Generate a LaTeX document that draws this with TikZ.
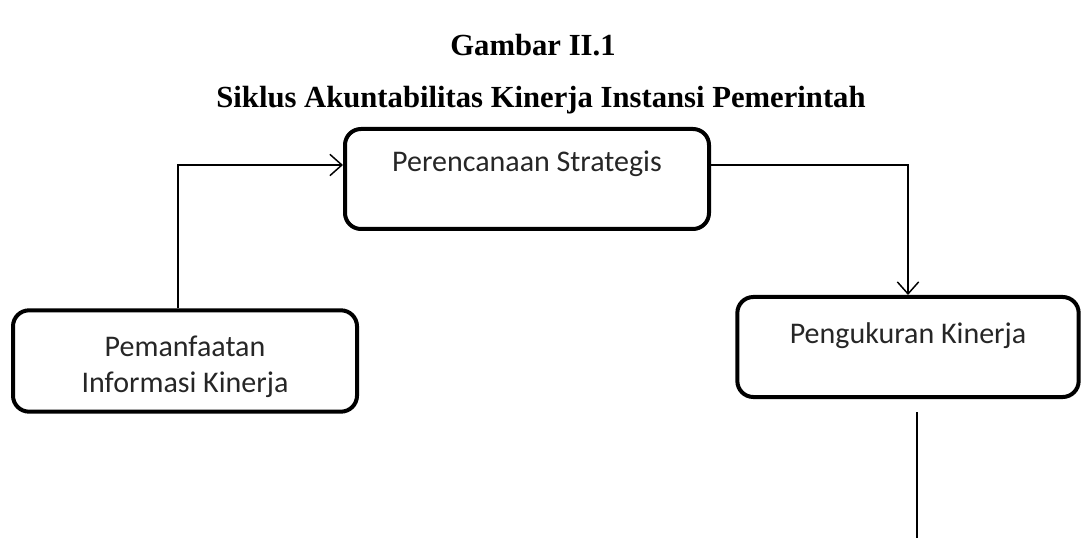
\documentclass[tikz,border=0pt]{standalone}
\usepackage{fontspec}
\setmainfont{Liberation Serif}
\newfontfamily\boxfont{Carlito}
\usetikzlibrary{shapes,arrows.meta}

\begin{document}
\begin{tikzpicture}[x=0.75pt,y=-0.75pt,
    stage/.style={draw,rounded corners=12pt,line width=3pt,inner sep=0pt},
    stagetext/.style={font=\boxfont\fontsize{22.5}{27}\selectfont,align=center,text=black!85},
    flow/.style={line width=1.1pt,-{Straight Barb[length=9pt,width=16pt,line width=1.1pt]}}]
        \useasboundingbox (0,0) rectangle (1082,538);

        % judul gambar
        \node[font=\bfseries\fontsize{23}{27}\selectfont] (fig) at (533,45) {Gambar II.1};
        \node[font=\bfseries\fontsize{23}{27}\selectfont] (title) at (541,100) {Siklus Akuntabilitas Kinerja Instansi Pemerintah};

        % kotak tahapan
        \node[stage,minimum width=273pt,minimum height=75pt] (plan) at (527,179) {};
        \node[stage,minimum width=258pt,minimum height=76pt] (use) at (185,361) {};
        \node[stage,minimum width=256pt,minimum height=75pt] (meas) at (908,347) {};

        % teks dalam kotak
        \node[stagetext] (plantxt) at (527,164) {Perencanaan Strategis};
        \node[stagetext] (usetxt) at (185,367) {Pemanfaatan\\Informasi Kinerja};
        \node[stagetext] (meastxt) at (908,336) {Pengukuran Kinerja};

        % titik bantu garis
        \coordinate (up) at (178,165);
        \coordinate (down1) at (917,412);
        \coordinate (down2) at (917,540);

        % garis penghubung
        \draw[flow] (use.north -| up) -- (up) -- (plan.west |- up);
        \draw[flow] (plan.east |- up) -| (meas.north);
        \draw[line width=1.1pt] (down1) -- (down2);
    \end{tikzpicture}
\end{document}
